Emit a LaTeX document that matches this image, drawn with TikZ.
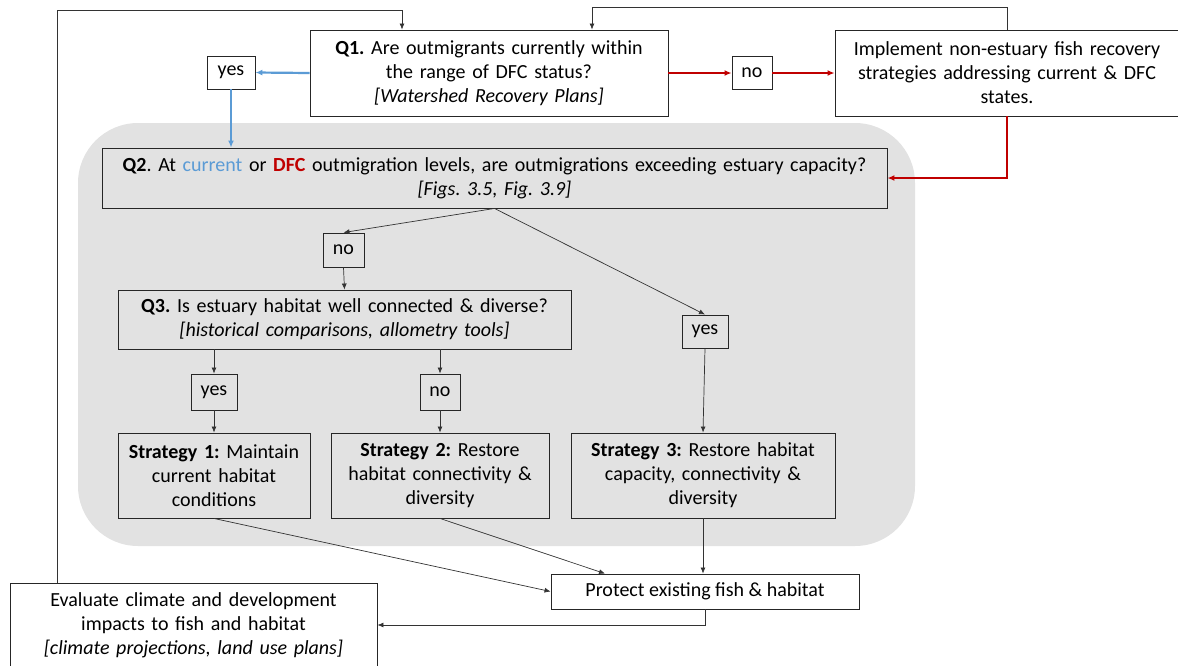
\documentclass[tikz,border=0pt]{standalone}
\usepackage{fontspec}
\setmainfont{Carlito}
\usetikzlibrary{arrows.meta}

\definecolor{qblue}{RGB}{91,155,213}
\definecolor{qred}{RGB}{192,0,0}
\definecolor{zone}{RGB}{226,226,226}

\begin{document}
\frenchspacing
\begin{tikzpicture}[x=1pt,y=-1pt,
    box/.style={draw=black!85, line width=0.9pt, fill=white, align=center, inner sep=2pt,
        font=\fontsize{20}{24}\selectfont},
    ibox/.style={box, fill=none},
    link/.style={draw=black!80, line width=0.7pt, -{Latex[length=6pt,width=5pt]}},
    bluelink/.style={draw=qblue, line width=2.2pt, -{Latex[length=7pt,width=6pt]}},
    redlink/.style={draw=qred, line width=2.2pt, -{Latex[length=7pt,width=6pt]}}]
    \useasboundingbox (0,0) rectangle (1178,665);

    %Shape: estuary zone
    \fill [zone, rounded corners=60pt] (78,123) rectangle (915,546);

    % Question nodes
    \node [box, minimum width=358pt, minimum height=86pt, text width=350pt] (q1) at (489,73)
        {\textbf{Q1.} Are outmigrants currently within\\the range of DFC status?\\\textit{[Watershed Recovery Plans]}};
    \node [box, minimum width=48pt, minimum height=33pt] (yesA) at (231,72.5) {yes};
    \node [box, minimum width=40pt, minimum height=33pt] (noA) at (752,73) {no};
    \node [box, minimum width=344pt, minimum height=86pt, text width=336pt] (impl) at (1007,73)
        {Implement non-estuary fish recovery\\strategies addressing current \& DFC\\states.};

    \node [ibox, minimum width=785pt, minimum height=60pt, text width=777pt] (q2) at (494.5,178)
        {\textbf{Q2}. At \textcolor{qblue}{current} or \textcolor{qred}{\textbf{DFC}} outmigration levels, are outmigrations exceeding estuary capacity?\\\textit{[Figs. 3.5, Fig. 3.9]}};
    \node [ibox, minimum width=41pt, minimum height=34pt] (noB) at (343.5,250) {no};
    \node [ibox, minimum width=46pt, minimum height=33pt] (yesD) at (705,331.5) {yes};
    \node [ibox, minimum width=453pt, minimum height=59pt, text width=445pt] (q3) at (344.5,319.5)
        {\textbf{Q3.} Is estuary habitat well connected \& diverse?\\\textit{[historical comparisons, allometry tools]}};
    \node [ibox, minimum width=46pt, minimum height=36pt] (yesC) at (214,392) {yes};
    \node [ibox, minimum width=40pt, minimum height=36pt] (noC) at (440,392) {no};

    % Strategy nodes
    \node [ibox, minimum width=192pt, minimum height=85pt, text width=186pt] (s1) at (214,475.5)
        {\textbf{Strategy 1:} Maintain\\current habitat\\conditions};
    \node [ibox, minimum width=218pt, minimum height=85pt, text width=212pt] (s2) at (440,475.5)
        {\textbf{Strategy 2:} Restore\\habitat connectivity \&\\diversity};
    \node [ibox, minimum width=264pt, minimum height=85pt, text width=258pt] (s3) at (703,475.5)
        {\textbf{Strategy 3:} Restore habitat\\capacity, connectivity \&\\diversity};

    \node [box, minimum width=308pt, minimum height=35pt] (prot) at (705,591.5)
        {Protect existing fish \& habitat};
    \node [box, minimum width=367pt, minimum height=84pt, text width=359pt] (eval) at (193.5,625)
        {Evaluate climate and development\\impacts to fish and habitat\\\textit{[climate projections, land use plans]}};

    % Feedback loops
    \coordinate (topL) at (57,10);
    \draw [link] (eval.north -| topL) -- (topL) -| ([xshift=-87pt]q1.north);
    \draw [link] (impl.north) -- ++(0,-22) -| ([xshift=103pt]q1.north);

    % Q1 branches
    \draw [bluelink] (q1.west) -- (yesA.east);
    \draw [bluelink] (yesA.south) -- (yesA.south |- q2.north);
    \draw [redlink] (q1.east) -- (noA.west);
    \draw [redlink] (noA.east) -- (impl.west);
    \draw [redlink] (impl.south) |- (q2.east);

    % Q2 and Q3 branches
    \draw [link] (q2.south) -- (noB.north);
    \draw [link] (q2.south) -- (yesD.north);
    \draw [link] (noB.south) -- (q3.north);
    \draw [link] (q3.south -| yesC) -- (yesC.north);
    \draw [link] (q3.south -| noC) -- (noC.north);
    \draw [link] (yesC.south) -- (s1.north);
    \draw [link] (noC.south) -- (s2.north);
    \draw [link] (yesD.south) -- (s3.north);

    % Strategies to protection
    \draw [link] (s1.south) -- (prot.west);
    \draw [link] (s2.south) -- ([xshift=-100pt]prot.north);
    \draw [link] (s3.south) -- (s3.south |- prot.north);
    \draw [link] (prot.south) |- (eval.east);
\end{tikzpicture}
\end{document}
